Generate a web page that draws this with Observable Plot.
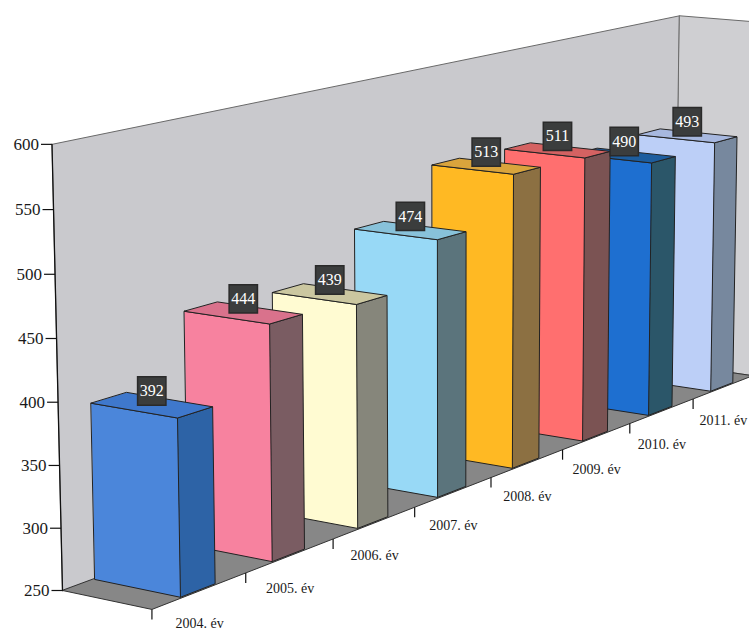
<!DOCTYPE html>
<html>
<head>
<meta charset="utf-8">
<script src="https://cdn.jsdelivr.net/npm/d3@7"></script>
<script src="https://cdn.jsdelivr.net/npm/@observablehq/plot@0.6"></script>
<style>
  html, body { margin: 0; padding: 0; background: #ffffff; }
  #chart svg { display: block; }
</style>
</head>
<body>
<div id="chart"></div>
<script>
// ---- data ----
const years = ["2004. év", "2005. év", "2006. év", "2007. év", "2008. év", "2009. év", "2010. év", "2011. év"];
const values = [392, 444, 439, 474, 513, 511, 490, 493];
const frontColors = ["#4b86da", "#f7829f", "#fffbd2", "#98d9f6", "#ffb923", "#ff6f6f", "#1e6fd0", "#bccff7"];
const topColors   = ["#3f78cc", "#d9728c", "#cbc7a0", "#88c2da", "#d9a43c", "#d46262", "#1d5d9e", "#a7b8df"];
const sideColors  = ["#2d63a6", "#7a5c62", "#86867b", "#5b747c", "#8c7042", "#7b5353", "#2b5669", "#77889e"];
const yTicks = [250, 300, 350, 400, 450, 500, 550, 600];
const yMin = 250, yMax = 600;

// ---- 3D camera (layout parameters) ----
const W = 749, H = 632;
const deg = Math.PI / 180;
const theta = 34 * deg, phi = 11.5 * deg, Dcam = 3400;
const FW = 102, STEP = 135, THICK = 0.37 * STEP, HY = 1.15, GAPX = 2;
const Dmax = years.length * STEP;
const st = Math.sin(theta), ct = Math.cos(theta), sp = Math.sin(phi), cp = Math.cos(phi);
const R = [ct, 0, st], U = [-st * sp, cp, ct * sp], F = [-st * cp, -sp, ct * cp];
const T = [FW / 2, (yMax - yMin) * HY / 2, Dmax / 2];
const dot3 = (a, b) => a[0] * b[0] + a[1] * b[1] + a[2] * b[2];
function raw(X, Y, Z) {
  const d = [X - T[0], Y - T[1], Z - T[2]];
  const s = Dcam / (Dcam + dot3(F, d));
  return [dot3(R, d) * s, -dot3(U, d) * s];
}
const origin = raw(0, 0, 0);
const anchor = [62, 590];
function proj(X, v, Z) {
  const p = raw(X, (v - yMin) * HY, Z);
  return [p[0] - origin[0] + anchor[0], p[1] - origin[1] + anchor[1]];
}

// ---- build polygons ----
const polys = [];
let pid = 0;
function face(pts, fill, stroke) {
  const id = pid++;
  for (const p of pts) {
    const [x, y] = proj(p[0], p[1], p[2]);
    polys.push({id, x, y, fill, stroke});
  }
}
// walls and floor
face([[0, yMin, 0], [0, yMax, 0], [0, yMax, Dmax], [0, yMin, Dmax]], "#c9c9cd", "#6a6a6a");
face([[0, yMin, Dmax], [FW, yMin, Dmax], [FW, yMax, Dmax], [0, yMax, Dmax]], "#cfcfd2", "#6a6a6a");
face([[0, yMin, 0], [FW, yMin, 0], [FW, yMin, Dmax], [0, yMin, Dmax]], "#878787", "#333333");

// bars back to front
for (let i = values.length - 1; i >= 0; i--) {
  const Z0 = i * STEP + (STEP - THICK) / 2, Z1 = Z0 + THICK;
  const X0 = GAPX, X1 = FW - GAPX, v = values[i];
  face([[X1, yMin, Z0], [X1, yMin, Z1], [X1, v, Z1], [X1, v, Z0]], sideColors[i], "#222222");
  face([[X0, yMin, Z0], [X1, yMin, Z0], [X1, v, Z0], [X0, v, Z0]], frontColors[i], "#222222");
  face([[X0, v, Z0], [X1, v, Z0], [X1, v, Z1], [X0, v, Z1]], topColors[i], "#222222");
}

// value labels
const valueLabels = values.map((v, i) => {
  const Zc = i * STEP + STEP / 2;
  const [x, y] = proj(FW / 2, v, Zc);
  return {x, y, text: String(v)};
});

// y axis
const axisLine = [proj(0, yMin, 0), proj(0, yMax, 0)].map(([x, y]) => ({x, y}));
const yTickData = yTicks.map(t => {
  const [x, y] = proj(0, t, 0);
  return {x, y, x2: x - 11, label: String(t)};
});

// category axis
const catTicks = d3.range(years.length).map(i => {
  const [x, y] = proj(FW, yMin, i * STEP);
  return {x, y, y2: y + 10};
});
const catLabels = years.map((t, i) => {
  const [x, y] = proj(FW, yMin, (i + 0.5) * STEP);
  return {x, y, label: t};
});

const chart = Plot.plot({
  width: W,
  height: H,
  margin: 0,
  x: {domain: [0, W], range: [0, W], axis: null},
  y: {domain: [0, H], range: [0, H], axis: null},
  color: {type: "identity"},
  style: {background: "#ffffff", fontFamily: "'Liberation Serif', 'Times New Roman', serif"},
  marks: [
    Plot.line(polys, {x: "x", y: "y", z: "id", fill: "fill", stroke: "stroke", strokeWidth: 1, curve: "linear-closed", strokeLinejoin: "round"}),
    Plot.line(axisLine, {x: "x", y: "y", stroke: "#111111", strokeWidth: 1.3}),
    Plot.link(yTickData, {x1: "x", y1: "y", x2: "x2", y2: "y", stroke: "#111111", strokeWidth: 1.2}),
    Plot.text(yTickData, {x: "x2", y: "y", text: "label", textAnchor: "end", dx: -2, fontSize: 17, fill: "#1a1a1a"}),
    Plot.link(catTicks, {x1: "x", y1: "y", x2: "x", y2: "y2", stroke: "#111111", strokeWidth: 1.2}),
    Plot.text(catLabels, {x: "x", y: "y", text: "label", textAnchor: "middle", dy: 33, fontSize: 14, fill: "#1a1a1a"}),
    Plot.dot(valueLabels, {x: "x", y: "y", dy: -14, symbol: "square", r: 16, fill: "#3b3d3d", stroke: "#2a2a2a"}),
    Plot.text(valueLabels, {x: "x", y: "y", dy: -14, text: "text", fontSize: 16, fill: "#ffffff"})
  ]
});
document.getElementById("chart").appendChild(chart);
</script>
</body>
</html>
